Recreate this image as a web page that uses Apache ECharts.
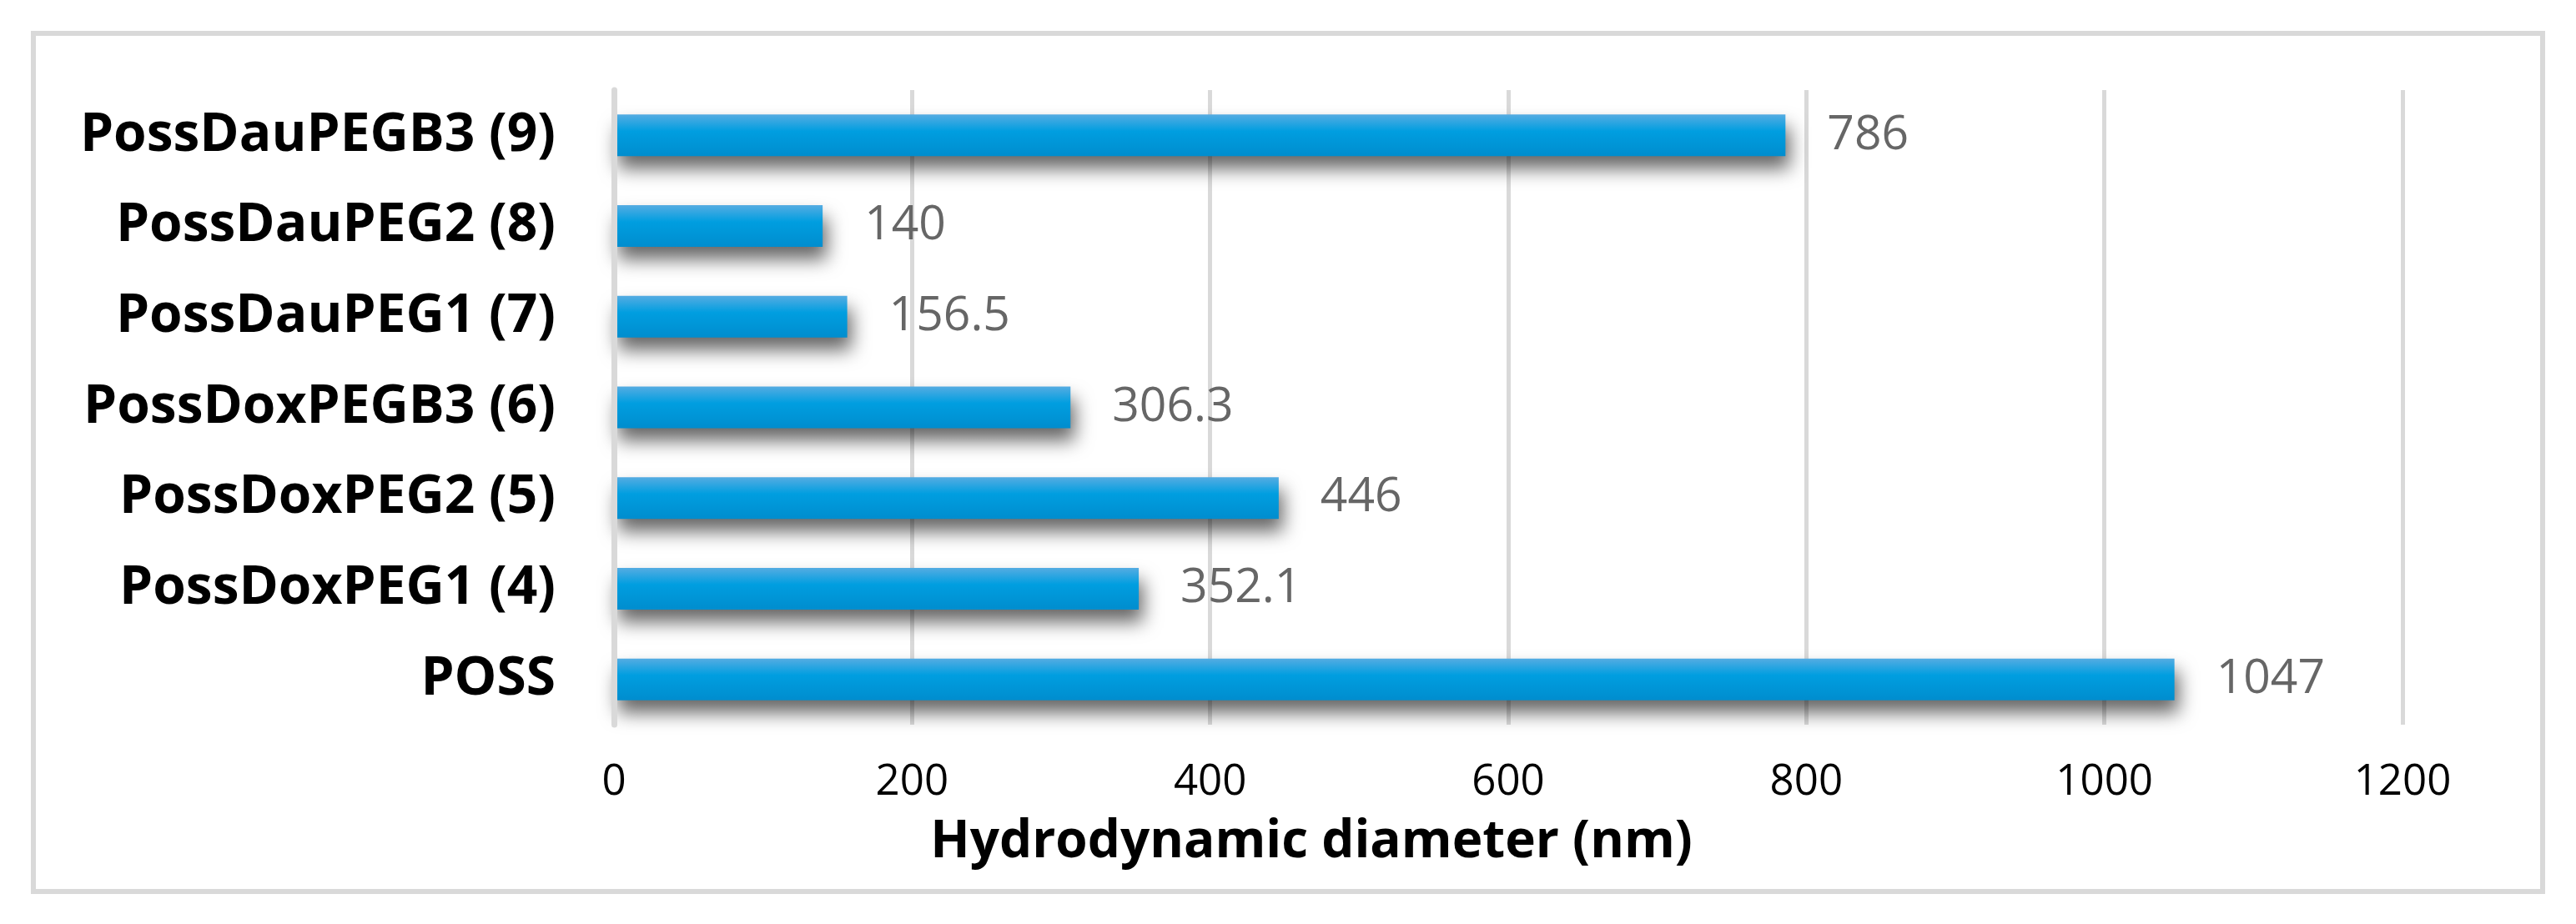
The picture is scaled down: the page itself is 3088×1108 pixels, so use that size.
<!DOCTYPE html>
<html>
<head>
<meta charset="utf-8">
<script src="https://cdn.jsdelivr.net/npm/echarts@6/dist/echarts.min.js"></script>
<style>
  html, body { margin: 0; padding: 0; background: #fff; }
  #chart { width: 3088px; height: 1108px; }
</style>
</head>
<body>
<div id="chart"></div>
<script>
// categories from bottom to top (category axis starts at the bottom)
const categories = [
  'POSS',
  'PossDoxPEG1 (4)',
  'PossDoxPEG2 (5)',
  'PossDoxPEGB3 (6)',
  'PossDauPEG1 (7)',
  'PossDauPEG2 (8)',
  'PossDauPEGB3 (9)'
];
const diameters = [1047, 352.1, 446, 306.3, 156.5, 140, 786];
const xTicks = [0, 200, 400, 600, 800, 1000, 1200];
const axisTitle = 'Hydrodynamic diameter (nm)';

const font = "'Open Sans', 'Noto Sans', sans-serif";
const gridColor = '#d9d9d9';

const chart = echarts.init(document.getElementById('chart'));

const option = {
  backgroundColor: '#fff',
  animation: false,
  grid: {
    left: 736,
    right: 208,
    top: 108,
    bottom: 239,
    containLabel: false
  },
  xAxis: {
    type: 'value',
    min: xTicks[0],
    max: xTicks[xTicks.length - 1],
    interval: xTicks[1] - xTicks[0],
    axisLine: { show: false },
    axisTick: { show: false },
    axisLabel: {
      color: '#000',
      fontFamily: font,
      fontSize: 51,
      margin: 44,
      formatter: (v) => String(v)
    },
    splitLine: {
      show: true,
      lineStyle: { color: gridColor, width: 5 }
    }
  },
  yAxis: {
    type: 'category',
    data: categories,
    z: 5,
    axisLine: {
      show: true,
      lineStyle: { color: gridColor, width: 7 }
    },
    axisTick: { show: false },
    splitLine: { show: false },
    axisLabel: {
      color: '#000',
      fontFamily: font,
      fontWeight: 'bold',
      fontSize: 64,
      margin: 70
    }
  },
  series: [{
    type: 'bar',
    data: diameters,
    barWidth: 50,
    itemStyle: {
      color: new echarts.graphic.LinearGradient(0, 0, 0, 1, [
        { offset: 0, color: '#55ace2' },
        { offset: 0.4, color: '#009ee0' },
        { offset: 1, color: '#008dce' }
      ]),
      shadowColor: 'rgba(0, 0, 0, 0.6)',
      shadowBlur: 22,
      shadowOffsetX: 5,
      shadowOffsetY: 15
    },
    label: {
      show: true,
      position: 'right',
      distance: 50,
      color: '#666',
      fontFamily: font,
      fontSize: 57
    }
  }],
  graphic: [
    {
      type: 'rect',
      shape: { x: 40, y: 40, width: 3008, height: 1029 },
      style: { fill: 'none', stroke: gridColor, lineWidth: 6 },
      silent: true
    },
    {
      type: 'text',
      x: 1572,
      y: 1010,
      style: {
        text: axisTitle,
        fill: '#000',
        font: "bold 62px " + font,
        align: 'center',
        verticalAlign: 'middle'
      }
    }
  ]
};

chart.setOption(option);
</script>
</body>
</html>
